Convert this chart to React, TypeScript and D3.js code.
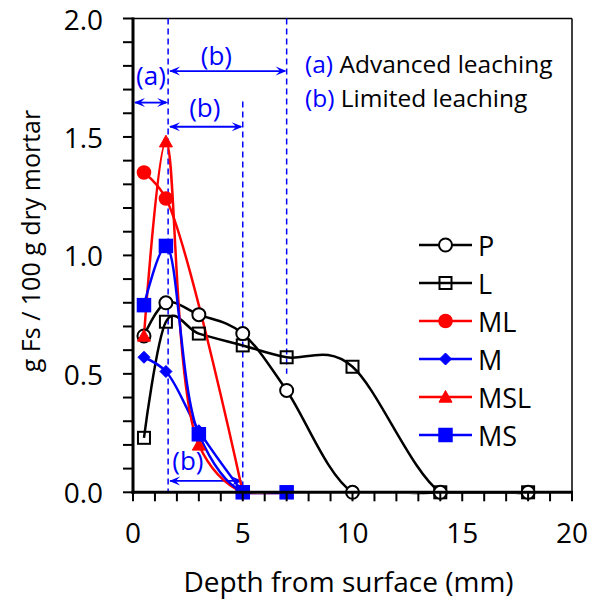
import React from "react";
import * as d3 from "d3";

const depthsPL = [0.5, 1.5, 3, 5, 7, 10, 14, 18];
const valuesP = [0.66, 0.8, 0.75, 0.67, 0.43, 0, 0, 0];
const valuesL = [0.23, 0.72, 0.67, 0.62, 0.57, 0.53, 0, 0];
const depthsML = [0.5, 1.5, 5];
const valuesML = [1.35, 1.24, 0];
const depthsM = [0.5, 1.5, 3, 5];
const valuesM = [0.57, 0.51, 0.26, 0];
const depthsMSL = [0.5, 1.5, 3, 5, 7];
const valuesMSL = [0.66, 1.48, 0.2, 0, 0];
const depthsMS = [0.5, 1.5, 3, 5, 7];
const valuesMS = [0.79, 1.04, 0.245, 0, 0];

const seriesNames = ["P", "L", "ML", "M", "MSL", "MS"];
const xTickLabels = [0, 5, 10, 15, 20];
const yTickLabels = [0, 0.5, 1.0, 1.5, 2.0];

type MarkerKind = "circle" | "square" | "diamond" | "triangle";
interface Series {
  name: string;
  xs: number[];
  ys: number[];
  color: string;
  marker: MarkerKind;
  filled: boolean;
  uniform: boolean;
}

const RED = "#FF0000";
const BLUE = "#0000FF";

const series: Series[] = [
  { name: seriesNames[0], xs: depthsPL, ys: valuesP, color: "#000", marker: "circle", filled: false, uniform: true },
  { name: seriesNames[1], xs: depthsPL, ys: valuesL, color: "#000", marker: "square", filled: false, uniform: true },
  { name: seriesNames[2], xs: depthsML, ys: valuesML, color: RED, marker: "circle", filled: true, uniform: false },
  { name: seriesNames[3], xs: depthsM, ys: valuesM, color: BLUE, marker: "diamond", filled: true, uniform: false },
  { name: seriesNames[4], xs: depthsMSL, ys: valuesMSL, color: RED, marker: "triangle", filled: true, uniform: false },
  { name: seriesNames[5], xs: depthsMS, ys: valuesMS, color: BLUE, marker: "square", filled: true, uniform: false },
];

// Annotations (data coordinates)
const dashedLines = [
  { x: 1.6, y0: 0, y1: 2.0 },
  { x: 7, y0: 0.5, y1: 2.0 },
  { x: 5, y0: 0, y1: 1.65 },
];
const arrows = [
  { x0: 0, x1: 1.6, y: 1.645, label: "(a)", lx: 0.82, ly: 1.76 },
  { x0: 1.6, x1: 7, y: 1.778, label: "(b)", lx: 3.8, ly: 1.845 },
  { x0: 1.6, x1: 5, y: 1.543, label: "(b)", lx: 3.27, ly: 1.625 },
  { x0: 1.6, x1: 5, y: 0.048, label: "(b)", lx: 2.5, ly: 0.135 },
];

const W = 592;
const H = 603;
const left = 133;
const right = 572;
const top = 18.5;
const bottom = 492.3;
const FONT = "'Open Sans', 'Noto Sans', sans-serif";

function Marker({ kind, cx, cy, color, filled }: { kind: MarkerKind; cx: number; cy: number; color: string; filled: boolean }) {
  const fill = filled ? color : "#fff";
  const sw = 2;
  if (kind === "circle") {
    const r = filled ? 6.3 : 6.5;
    return <circle cx={cx} cy={cy} r={r} fill={fill} stroke={color} strokeWidth={sw} />;
  }
  if (kind === "square") {
    const s = filled ? 12.5 : 12;
    return <rect x={cx - s / 2} y={cy - s / 2} width={s} height={s} fill={filled ? color : "none"} stroke={color} strokeWidth={sw} />;
  }
  if (kind === "diamond") {
    const s = 6;
    return <path d={`M${cx},${cy - s}L${cx + s},${cy}L${cx},${cy + s}L${cx - s},${cy}Z`} fill={fill} stroke={color} strokeWidth={1} />;
  }
  const s = 6.5;
  return <path d={`M${cx},${cy - s}L${cx + s},${cy + s * 0.8}L${cx - s},${cy + s * 0.8}Z`} fill={fill} stroke={color} strokeWidth={1} />;
}

export default function App() {
  const x = d3.scaleLinear().domain([0, 20]).range([left, right]);
  const y = d3.scaleLinear().domain([0, 2]).range([bottom, top]);
  const lineUniform = d3
    .line<[number, number]>()
    .x((d) => x(d[0]))
    .y((d) => y(d[1]))
    .curve(d3.curveCardinal.tension(0));
  const lineCentripetal = d3
    .line<[number, number]>()
    .x((d) => x(d[0]))
    .y((d) => y(d[1]))
    .curve(d3.curveCatmullRom.alpha(0.5));

  const xMinor = d3.range(0, 21, 1);
  const yMinor = d3.range(0, 21, 1).map((v) => v / 10);

  const drawOrder = [1, 0, 2, 3, 4, 5];

  const legendX0 = 419;
  const legendX1 = 472;
  const legendMx = 445.5;
  const legendY0 = 245;
  const legendDy = 38;

  const arrowHead = (xt: number, yt: number, dir: number) => {
    const len = 11;
    const hw = 4.5;
    return `M${xt},${yt}L${xt - dir * len},${yt - hw}L${xt - dir * len * 0.6},${yt}L${xt - dir * len},${yt + hw}Z`;
  };

  return (
    <svg width={W} height={H} style={{ position: "absolute", left: 0, top: 0, background: "#fff" }} fontFamily={FONT}>
      <defs>
        <clipPath id="plotclip">
          <rect x={left} y={top} width={right - left} height={bottom - top + 2} />
        </clipPath>
      </defs>
      <rect x={0} y={0} width={W} height={H} fill="#fff" />

      {/* frame top & right */}
      <line x1={left} x2={right} y1={top} y2={top} stroke="#000" strokeWidth={1.5} />
      <line x1={right} x2={right} y1={top} y2={bottom} stroke="#000" strokeWidth={1.5} />

      {/* dashed guide lines */}
      {dashedLines.map((d, i) => (
        <line key={"dl" + i} x1={x(d.x)} x2={x(d.x)} y1={y(d.y1)} y2={y(d.y0)} stroke={BLUE} strokeWidth={1.5} strokeDasharray="6,4" />
      ))}

      {/* arrows */}
      {arrows.map((a, i) => (
        <g key={"ar" + i}>
          <line x1={x(a.x0) + 2} x2={x(a.x1) - 2} y1={y(a.y)} y2={y(a.y)} stroke={BLUE} strokeWidth={1.8} />
          <path d={arrowHead(x(a.x1), y(a.y), 1)} fill={BLUE} />
          <path d={arrowHead(x(a.x0) + 1, y(a.y), -1)} fill={BLUE} />
          <text x={x(a.lx)} y={y(a.ly)} textAnchor="middle" dominantBaseline="central" fill={BLUE} fontSize={26}>
            {a.label}
          </text>
        </g>
      ))}

      {/* series lines */}
      <g clipPath="url(#plotclip)">
        {drawOrder.map((si) => {
          const s = series[si];
          const pts = s.xs.map((xv, j) => [xv, s.ys[j]] as [number, number]);
          const gen = s.uniform ? lineUniform : lineCentripetal;
          return <path key={"ln" + si} d={gen(pts) || ""} fill="none" stroke={s.color} strokeWidth={2.5} />;
        })}
      </g>

      {/* markers */}
      {drawOrder.map((si) => {
        const s = series[si];
        return (
          <g key={"mk" + si}>
            {s.xs.map((xv, j) => (
              <Marker key={j} kind={s.marker} cx={x(xv)} cy={y(s.ys[j])} color={s.color} filled={s.filled} />
            ))}
          </g>
        );
      })}

      {/* axes */}
      <line x1={left} x2={left} y1={top - 1} y2={bottom + 1.5} stroke="#000" strokeWidth={3} />
      <line x1={left - 1.5} x2={right + 1} y1={bottom} y2={bottom} stroke="#000" strokeWidth={3} />
      {xMinor.map((v) => (
        <line key={"xt" + v} x1={x(v)} x2={x(v)} y1={bottom} y2={bottom + 9} stroke="#000" strokeWidth={2} />
      ))}
      {yMinor.map((v) => (
        <line key={"yt" + v} x1={left - 10} x2={left} y1={y(v)} y2={y(v)} stroke="#000" strokeWidth={2} />
      ))}
      {xTickLabels.map((v) => (
        <text key={"xl" + v} x={x(v)} y={543} textAnchor="middle" fontSize={28} fill="#000">
          {v}
        </text>
      ))}
      {yTickLabels.map((v) => (
        <text key={"yl" + v} x={103} y={y(v)} textAnchor="end" dominantBaseline="central" fontSize={28} fill="#000">
          {v.toFixed(1)}
        </text>
      ))}

      {/* axis titles */}
      <text x={348.5} y={592} textAnchor="middle" fontSize={28} fill="#000">
        Depth from surface (mm)
      </text>
      <text transform={`translate(40,241) rotate(-90)`} textAnchor="middle" fontSize={25} fill="#000">
        g Fs / 100 g dry mortar
      </text>

      {/* legend */}
      {series.map((s, i) => {
        const ly = legendY0 + i * legendDy;
        return (
          <g key={"lg" + i}>
            <line x1={legendX0} x2={legendX1} y1={ly} y2={ly} stroke={s.color} strokeWidth={2.5} />
            <Marker kind={s.marker} cx={legendMx} cy={ly} color={s.color} filled={s.filled} />
            <text x={478} y={ly} dominantBaseline="central" fontSize={27} fill="#000">
              {s.name}
            </text>
          </g>
        );
      })}

      {/* note */}
      <text x={305} y={63} dominantBaseline="central" fontSize={24.5} fill="#000">
        <tspan fill={BLUE}>(a)</tspan> Advanced leaching
      </text>
      <text x={305} y={97} dominantBaseline="central" fontSize={24.5} fill="#000">
        <tspan fill={BLUE}>(b)</tspan> Limited leaching
      </text>
    </svg>
  );
}
